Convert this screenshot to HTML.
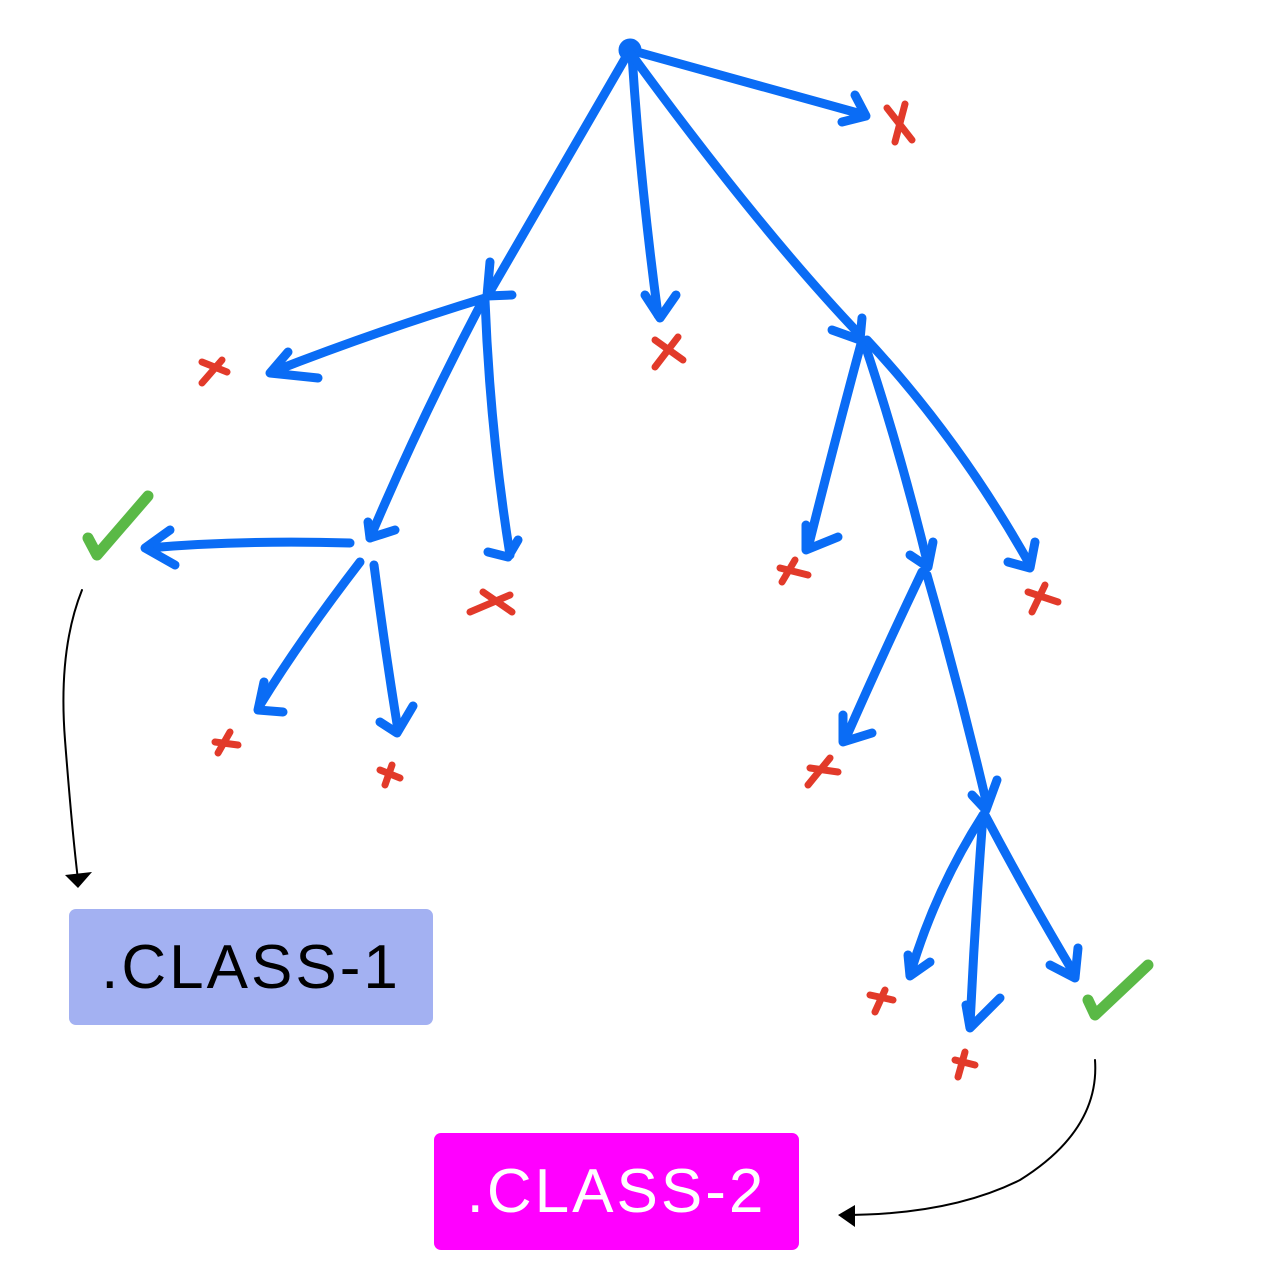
<!DOCTYPE html>
<html><head><meta charset="utf-8"><style>
html,body{margin:0;padding:0;background:#fff;}
.box{position:absolute;border-radius:7px;font-family:"Liberation Sans",sans-serif;font-size:62px;display:flex;align-items:center;justify-content:center;letter-spacing:3px;}
</style></head><body>
<div style="position:relative;width:1273px;height:1285px;overflow:hidden;">
<svg width="1273" height="1285" style="position:absolute;left:0;top:0" fill="none" stroke-linecap="round" stroke-linejoin="round">
<g stroke="#0a6cf5" stroke-width="9">
<circle cx="630" cy="50" r="7" fill="#0a6cf5"/>
<path d="M630 50 Q740 80 865 115"/><path d="M855 95 L866 116 L842 122"/>
<path d="M630 50 Q560 170 488 295"/><path d="M490 262 L487 296 L512 295"/>
<path d="M632 55 Q640 180 658 315"/><path d="M645 295 L660 318 L676 295"/>
<path d="M632 55 Q760 230 860 335"/><path d="M832 330 L860 340 L862 318"/>
<path d="M485 298 Q380 330 272 372"/><path d="M288 352 L270 373 L318 378"/>
<path d="M483 300 Q420 420 370 538"/><path d="M368 522 L370 538 L395 530"/>
<path d="M485 300 Q490 430 510 555"/><path d="M488 552 L508 557 L518 540"/>
<path d="M350 543 Q240 540 148 548"/><path d="M170 530 L145 548 L175 565"/>
<path d="M360 562 Q300 640 260 705"/><path d="M264 682 L258 710 L283 712"/>
<path d="M374 565 Q385 650 398 730"/><path d="M380 722 L397 733 L413 706"/>
<path d="M862 340 Q835 440 808 548"/><path d="M806 525 L806 550 L838 537"/>
<path d="M865 345 Q900 450 928 565"/><path d="M910 555 L928 567 L933 542"/>
<path d="M867 340 Q960 440 1030 565"/><path d="M1008 562 L1030 568 L1035 542"/>
<path d="M922 572 Q880 660 845 740"/><path d="M843 715 L843 742 L872 733"/>
<path d="M927 575 Q960 690 987 805"/><path d="M972 795 L986 810 L997 780"/>
<path d="M983 815 Q935 890 910 975"/><path d="M908 955 L910 976 L930 962"/>
<path d="M983 815 Q975 920 970 1025"/><path d="M966 1005 L970 1028 L1000 998"/>
<path d="M985 815 Q1030 900 1075 975"/><path d="M1050 965 L1075 978 L1078 948"/>
</g>
<g stroke="#e23a2a" stroke-width="7">
<path d="M887 108 L912 140 M905 104 L895 142"/>
<path d="M655 340 L683 360 M678 337 L655 367"/>
<path d="M202 362 L227 372 M222 360 L202 383"/>
<path d="M470 612 L510 595 M483 592 L512 612"/>
<path d="M215 742 L238 745 M230 732 L218 753"/>
<path d="M380 770 L400 778 M392 765 L385 785"/>
<path d="M780 568 L808 575 M795 560 L782 582"/>
<path d="M1028 592 L1058 602 M1045 585 L1032 612"/>
<path d="M810 768 L838 772 M830 758 L808 785"/>
<path d="M870 995 L893 1000 M885 990 L875 1012"/>
<path d="M955 1060 L975 1065 M965 1052 L958 1077"/>
</g>
<g stroke="#5ab946" stroke-width="11">
<path d="M88 538 L97 555 L148 496"/>
<path d="M1088 1000 L1095 1015 L1148 965"/>
</g>
<g stroke="#000" stroke-width="2">
<path d="M82 590 Q58 650 65 740 Q72 830 78 880"/>
<path d="M1095 1060 Q1100 1130 1020 1180 Q950 1215 842 1215"/>
</g>
<path d="M65 875 L92 872 L78 888 Z" fill="#000"/>
<path d="M838 1215 L855 1205 L855 1227 Z" fill="#000"/>
</svg>
<div class="box" style="left:69px;top:909px;width:364px;height:116px;background:#a3b1f2;color:#000;">.CLASS-1</div>
<div class="box" style="left:434px;top:1133px;width:365px;height:117px;background:#ff00ff;color:#fff;">.CLASS-2</div>
</div>
</body></html>
